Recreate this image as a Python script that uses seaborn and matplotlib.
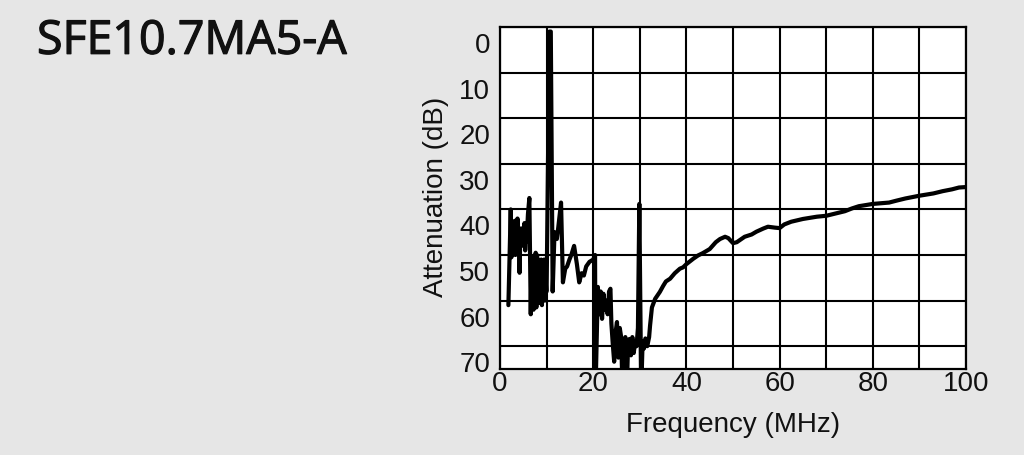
import numpy as np
import pandas as pd
import matplotlib
matplotlib.use("Agg")
import matplotlib.pyplot as plt
import matplotlib.transforms as mtrans
import matplotlib.patheffects as pe
import seaborn as sns

title = "SFE10.7MA5-A"
x_label = "Frequency (MHz)"
y_label = "Attenuation (dB)"
x_ticks = [0, 20, 40, 60, 80, 100]
y_ticks = [0, 10, 20, 30, 40, 50, 60, 70]

freq_mhz = [
    1.8, 2.3, 2.45, 2.6, 2.75, 2.9, 3.0, 3.15, 3.3, 3.45, 3.6, 3.75, 3.9, 4.05,
    4.2, 4.35, 4.5, 4.65, 4.8, 4.95, 5.1, 5.25, 5.4, 5.55, 5.7, 6.0, 6.3,
    6.6, 6.75, 6.9, 7.05, 7.2, 7.35, 7.5, 7.65, 7.8, 7.95, 8.1, 8.25, 8.4, 8.55,
    8.7, 8.85, 9.0, 9.15, 9.3, 9.45, 9.6, 9.75, 9.9,
    10.0, 10.6, 10.9, 11.3, 11.7, 12.2, 12.5, 13.1, 13.5, 14.0, 14.4, 14.9, 15.3,
    15.9, 16.5, 17.0, 17.5, 18.0, 18.5, 19.2, 20.0, 20.4, 20.5, 21.0,
    21.3, 21.6, 21.9, 22.2, 22.5, 22.8, 23.1, 23.4, 23.7, 23.9, 24.2, 24.5,
    24.8, 25.1, 25.4, 25.7, 26.0, 26.3, 26.6, 26.9, 27.2, 27.5, 27.8, 28.1,
    28.4, 28.7, 29.0, 29.3, 29.6, 29.9, 30.3, 30.6, 30.9, 31.2,
    31.6, 32.0, 32.2, 32.6, 33.3, 34.3, 35.0, 35.6, 36.5, 37.5, 38.6, 39.3, 40.0,
    41.5, 42.5, 43.5, 45.0, 46.3, 47.2, 48.3, 49.0, 50.0, 50.8, 51.5, 52.5, 54.0,
    55.0, 56.5, 57.5, 59.0, 60.0, 61.0, 62.5, 65.0, 68.0, 70.0, 72.0, 74.0, 75.5,
    77.0, 80.0, 83.5, 85.0, 87.0, 90.0, 93.0, 95.0, 97.0, 98.5, 100.0,
]
atten_db = [
    61, 40, 50.5, 44, 49, 45, 48, 42.5, 50, 44, 46, 42, 49.7, 44,
    53.9, 46, 48, 44.7, 47, 44, 48, 43, 49, 46, 47, 41, 37.5,
    63, 52, 61, 50.5, 62, 51, 60, 49.5, 61.5, 50, 59, 51, 60.5, 52,
    60, 51, 61, 52, 59, 51, 60, 53, 58,
    58, 1.0, 1.0, 58, 45, 46.5, 44, 38.5, 56, 53, 52.5, 51, 50,
    48, 52, 56, 54, 54.5, 52.5, 51.5, 51, 50, 80, 57,
    63, 58, 64, 58.5, 62, 60, 63, 58, 57.4, 65, 69.5, 73.4,
    67, 64.7, 72.5, 66, 68, 80, 70, 68, 80, 69, 68.4, 72,
    68, 71.5, 69, 70, 66, 38.8, 80, 69, 70.5, 68.3,
    70, 68, 65.5, 61.5, 59.6, 58.1, 56.8, 55.8, 55.2, 54, 53, 52.7, 52,
    50.8, 50.1, 49.6, 48.7, 47.2, 46.5, 46.0, 46.3, 47.4, 47.2, 46.7, 46.0, 45.5,
    44.9, 44.2, 43.8, 44.0, 44.1, 43.3, 42.7, 42.1, 41.6, 41.4, 40.9, 40.4, 39.8,
    39.3, 38.8, 38.5, 38.1, 37.6, 37.0, 36.5, 36.0, 35.6, 35.2, 35.1,
]

df = pd.DataFrame({"freq": freq_mhz, "atten": atten_db})

sns.set_theme(style="white")
plt.rcParams["font.family"] = ["Liberation Sans", "DejaVu Sans"]

bg = "#e6e6e6"
ink = "#111111"
fig = plt.figure(figsize=(10.24, 4.56), dpi=100, facecolor=bg)
ax = fig.add_axes([500 / 1024, 1 - 370 / 456, 466 / 1024, 342 / 456])
ax.set_facecolor("white")

sns.lineplot(data=df, x="freq", y="atten", sort=False, estimator=None,
             color="black", linewidth=3.0, ax=ax)

ax.set_xlim(0, 100)
ax.set_ylim(75, 0)
ax.set_xticks(np.arange(0, 101, 10))
ax.set_xticklabels([str(v) if v in x_ticks else "" for v in range(0, 101, 10)])
ax.set_yticks(y_ticks)
ax.set_yticklabels([str(v) for v in y_ticks])
ax.grid(True, color="black", linewidth=1.5)
ax.set_axisbelow(True)
for sp in ax.spines.values():
    sp.set_color("black")
    sp.set_linewidth(1.6)
ax.tick_params(axis="both", length=0, labelsize=20, colors=ink)
ax.tick_params(axis="x", pad=1)
ax.tick_params(axis="y", pad=7)
off = mtrans.ScaledTranslation(0, -15 / 100, fig.dpi_scale_trans)
for lab in ax.get_yticklabels():
    lab.set_transform(lab.get_transform() + off)
ax.set_xlabel("")
ax.set_ylabel("")

fig.text(436 / 1024, 1 - 197 / 456, y_label, rotation=90, ha="center", va="center",
         fontsize=20, color=ink)
fig.text(733 / 1024, 1 - 425 / 456, x_label, ha="center", va="center",
         fontsize=20, color=ink)
fig.text(37 / 1024, 1 - 42 / 456, title, ha="left", va="center",
         fontsize=33.5, color=ink, family=["Open Sans", "DejaVu Sans"],
         path_effects=[pe.withStroke(linewidth=0.9, foreground=ink)])

fig.savefig("out.png", dpi=100, facecolor=bg)
